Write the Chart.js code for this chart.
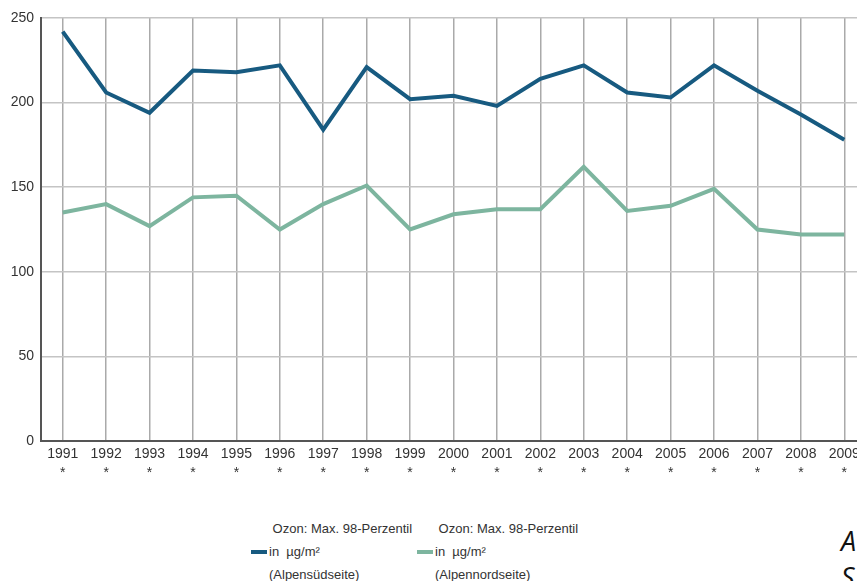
<!DOCTYPE html>
<html>
<head>
<meta charset="utf-8">
<script src="https://cdn.jsdelivr.net/npm/chart.js@4"></script>
<style>
  html, body { margin: 0; padding: 0; background: #fff; overflow: hidden; width: 857px; height: 581px; }
  #wrap { position: absolute; left: 0; top: 0; width: 880px; height: 500px; }
  .leg { position: absolute; font: 13px "Liberation Sans", Arial, sans-serif; color: #333; line-height: 23px; }
  .sw { position: absolute; height: 4px; width: 16px; }
  .side { position: absolute; left: 841px; top: 523px; font: italic 27px "Open Sans", sans-serif; color: #111; line-height: 36px; }
</style>
</head>
<body>
<div id="wrap"><canvas id="myChart" width="880" height="500"></canvas></div>

<div class="sw" style="left:251px; top:550px; background:#175a80;"></div>
<div class="leg" style="left:269px; top:517px;">&nbsp;Ozon: Max. 98-Perzentil<br>in &nbsp;µg/m²<br>(Alpensüdseite)</div>
<div class="sw" style="left:417px; top:550px; background:#7db59f;"></div>
<div class="leg" style="left:435px; top:517px;">&nbsp;Ozon: Max. 98-Perzentil<br>in &nbsp;µg/m²<br>(Alpennordseite)</div>
<div class="side">A<br>S</div>

<script>
'use strict';

const years = ['1991', '1992', '1993', '1994', '1995', '1996', '1997', '1998', '1999', '2000',
  '2001', '2002', '2003', '2004', '2005', '2006', '2007', '2008', '2009'];
const suedseite = [242, 206, 194, 219, 218, 222, 184, 221, 202, 204,
  198, 214, 222, 206, 203, 222, 207, 193, 178];
const nordseite = [135, 140, 127, 144, 145, 125, 140, 151, 125, 134,
  137, 137, 162, 136, 139, 149, 125, 122, 122];
const yTicks = [0, 50, 100, 150, 200, 250];

let ctx = document.getElementById('myChart').getContext('2d');
let myChart = new Chart(ctx, {
  type: 'line',
  data: {
    labels: years.map(y => [y, '*']),
    datasets: [{
      label: 'Ozon: Max. 98-Perzentil in µg/m² (Alpensüdseite)',
      data: suedseite,
      borderColor: '#175a80',
      borderWidth: 4,
      pointRadius: 0,
      tension: 0,
      fill: false
    }, {
      label: 'Ozon: Max. 98-Perzentil in µg/m² (Alpennordseite)',
      data: nordseite,
      borderColor: '#7db59f',
      borderWidth: 4,
      pointRadius: 0,
      tension: 0,
      fill: false
    }]
  },
  options: {
    responsive: false,
    animation: false,
    layout: { padding: { top: 18, right: 14, left: 0, bottom: 0 } },
    plugins: {
      legend: { display: false },
      tooltip: { enabled: false }
    },
    scales: {
      x: {
        offset: true,
        grid: { offset: false, color: '#aaaaaa', lineWidth: 1.5, drawTicks: false },
        border: { color: '#555', width: 2 },
        ticks: {
          color: '#333',
          padding: 4,
          maxRotation: 0,
          autoSkip: false,
          font: { family: '"Liberation Sans", Arial, sans-serif', size: 14, lineHeight: 1.35 }
        },
        afterFit: s => { s.height = 59; }
      },
      y: {
        min: 0,
        max: 250,
        afterBuildTicks: s => { s.ticks = yTicks.map(v => ({ value: v })); },
        grid: { color: '#c4c4c4', lineWidth: 1.5, drawTicks: false },
        border: { color: '#555', width: 2 },
        ticks: {
          color: '#333',
          padding: 7,
          font: { family: '"Liberation Sans", Arial, sans-serif', size: 14 }
        },
        afterFit: s => { s.width = 41; }
      }
    }
  }
});
</script>
</body>
</html>
